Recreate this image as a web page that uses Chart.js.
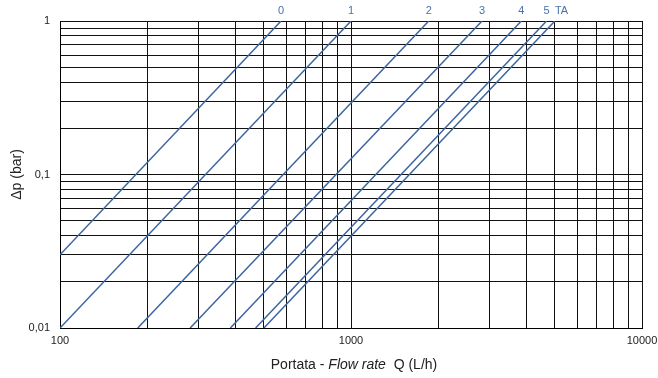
<!DOCTYPE html>
<html>
<head>
<meta charset="utf-8">
<script src="https://cdn.jsdelivr.net/npm/chart.js@4.4.1/dist/chart.umd.min.js"></script>
<style>
    html, body { margin: 0; padding: 0; background: #fff; }
    canvas { display: block; }
</style>
</head>
<body>
<canvas id="dpChart" width="658" height="378"></canvas>
<script>
// valve settings (curve labels on top)
const settings = ['0', '1', '2', '3', '4', '5', 'TA'];
// each curve is a straight line on log-log paper: start point -> end point
const flowStart = [100, 100, 185, 280, 385, 470, 502];
const dpStart = [0.03, 0.01, 0.01, 0.01, 0.01, 0.01, 0.01];
const flowEnd = [575, 1000, 1850, 2820, 3850, 4700, 5020];
const dpEnd = [1, 1, 1, 1, 1, 1, 1];

// grid lines
const xGrid = [100, 200, 300, 400, 500, 600, 700, 800, 900,
    1000, 2000, 3000, 4000, 5000, 6000, 7000, 8000, 9000, 10000];
const yGrid = [0.01, 0.02, 0.03, 0.04, 0.05, 0.06, 0.07, 0.08, 0.09,
    0.1, 0.2, 0.3, 0.4, 0.5, 0.6, 0.7, 0.8, 0.9, 1];
// labelled ticks
const xMajor = [100, 1000, 10000];
const xMajorLabels = ['100', '1000', '10000'];
const yMajor = [0.01, 0.1, 1];
const yMajorLabels = ['0,01', '0,1', '1'];

const FONT = "'Liberation Sans', Arial, sans-serif";
const lineColor = '#3d65a0';
const labelColor = '#4a72aa';

function labelFor(value, majors, labels) {
    const i = majors.findIndex(m => Math.abs(m - value) / m < 1e-6);
    return i >= 0 ? labels[i] : '';
}

const datasets = settings.map((name, i) => ({
    label: name,
    data: [{ x: flowStart[i], y: dpStart[i] }, { x: flowEnd[i], y: dpEnd[i] }],
    showLine: true,
    borderColor: lineColor,
    borderWidth: 1.5,
    pointRadius: 0,
    fill: false
}));

// curve names above the plot + axis titles
const annotations = {
    id: 'annotations',
    afterDraw(chart) {
        const { ctx, chartArea, scales } = chart;
        ctx.save();
        ctx.fillStyle = labelColor;
        ctx.font = '11px ' + FONT;
        ctx.textBaseline = 'middle';
        settings.forEach((name, i) => {
            const px = scales.x.getPixelForValue(flowEnd[i]);
            ctx.textAlign = name.length > 1 ? 'left' : 'center';
            ctx.fillText(name, px, 11);
        });

        // y title
        ctx.fillStyle = '#222';
        ctx.font = '14px ' + FONT;
        ctx.textAlign = 'center';
        ctx.translate(17, (chartArea.top + chartArea.bottom) / 2);
        ctx.rotate(-Math.PI / 2);
        ctx.fillText('\u0394p (bar)', 0, 0);
        ctx.setTransform(1, 0, 0, 1, 0, 0);

        // x title with italic part
        const parts = [
            { t: 'Portata - ', f: '14px ' + FONT },
            { t: 'Flow rate', f: 'italic 14px ' + FONT },
            { t: '  Q (L/h)', f: '14px ' + FONT }
        ];
        let total = 0;
        parts.forEach(p => { ctx.font = p.f; p.w = ctx.measureText(p.t).width; total += p.w; });
        let x = (chartArea.left + chartArea.right) / 2 + 3 - total / 2;
        ctx.textAlign = 'left';
        parts.forEach(p => {
            ctx.font = p.f;
            ctx.fillText(p.t, x, 365);
            x += p.w;
        });
        ctx.restore();
    }
};

new Chart(document.getElementById('dpChart').getContext('2d'), {
    type: 'scatter',
    data: { datasets },
    plugins: [annotations],
    options: {
        responsive: false,
        animation: false,
        devicePixelRatio: 1,
        layout: { padding: { top: 21, right: 16, left: 0, bottom: 0 } },
        plugins: { legend: { display: false }, tooltip: { enabled: false } },
        scales: {
            x: {
                type: 'logarithmic',
                min: 100,
                max: 10000,
                afterBuildTicks: scale => { scale.ticks = xGrid.map(v => ({ value: v })); },
                afterFit: scale => {
                    scale.height = 50;
                    scale.paddingLeft = 0;
                    scale.paddingRight = 0;
                },
                grid: { color: '#111', lineWidth: 1, drawTicks: false },
                border: { color: '#000', width: 1 },
                ticks: {
                    autoSkip: false,
                    maxRotation: 0,
                    padding: 6,
                    color: '#222',
                    font: { family: FONT, size: 11 },
                    callback: v => labelFor(v, xMajor, xMajorLabels)
                }
            },
            y: {
                type: 'logarithmic',
                min: 0.01,
                max: 1,
                afterBuildTicks: scale => { scale.ticks = yGrid.map(v => ({ value: v })); },
                afterFit: scale => {
                    scale.width = 60;
                    scale.paddingTop = 0;
                    scale.paddingBottom = 0;
                },
                grid: { color: '#111', lineWidth: 1, drawTicks: false },
                border: { color: '#000', width: 1 },
                ticks: {
                    autoSkip: false,
                    padding: 10,
                    color: '#222',
                    font: { family: FONT, size: 11 },
                    callback: v => labelFor(v, yMajor, yMajorLabels)
                }
            }
        }
    }
});
</script>
</body>
</html>
